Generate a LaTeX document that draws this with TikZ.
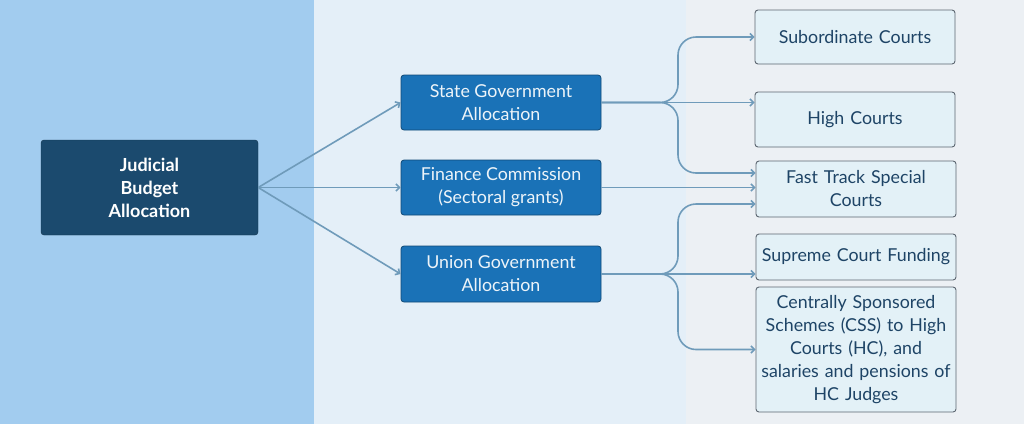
\documentclass[tikz,border=0pt]{standalone}
\usepackage{fontspec}
\setmainfont{Lato}
\usepackage{tikz}
\usepackage{xcolor}
\usetikzlibrary{arrows.meta,positioning}
\definecolor{left-bg}{HTML}{A2CCEF}
\definecolor{mid-bg}{HTML}{E4EFF8}
\definecolor{right-bg}{HTML}{ECF0F4}
\definecolor{navy-box}{HTML}{1B4A6E}
\definecolor{blue-box}{HTML}{1A72B7}
\definecolor{pale-box}{HTML}{E3F1F7}
\definecolor{link-col}{HTML}{6F9BBA}
\definecolor{dark-text}{HTML}{1E4466}
\definecolor{edge-gray}{HTML}{5C6670}
\tikzset{
    root-box/.style = {draw=navy-box!70!black, fill=navy-box, text=white, rectangle, rounded corners=3pt, font=\bfseries\fontsize{18}{23}\selectfont, align=center, minimum width=217pt, minimum height=95pt, inner sep=0pt},
    source-box/.style = {draw=blue-box!65!black, line width=0.8pt, fill=blue-box, text=white!92!blue-box, rectangle, rounded corners=3pt, font=\fontsize{17.8}{23}\selectfont, align=center, minimum width=200pt, inner sep=0pt},
    court-box/.style = {draw=edge-gray, line width=0.9pt, fill=pale-box, text=dark-text, rectangle, rounded corners=3pt, font=\fontsize{17.8}{23}\selectfont, align=center, text width=198pt, minimum width=200pt, inner sep=1pt},
    link/.style = {draw=link-col, line width=1.6pt, -{Straight Barb[length=3.5pt,width=7pt]}},
}
\begin{document}
\begin{tikzpicture}[x=1pt, y=-1pt]
\useasboundingbox (0,0) rectangle (1024,424);
\fill[left-bg] (0,0) rectangle (314,424);
\fill[mid-bg] (314,0) rectangle (686,424);
\fill[right-bg] (686,0) rectangle (1024,424);

\node [root-box] (budget) at (149.5,187.5) {Judicial\\Budget\\Allocation};

\node [source-box, minimum height=55pt] (state) at (501,102.5) {State Government\\Allocation};
\node [source-box, minimum height=55pt] (finance) at (501,187.5) {Finance Commission\\(Sectoral grants)};
\node [source-box, minimum height=56pt] (union) at (501,274) {Union Government\\Allocation};

\node [court-box, minimum height=54pt] (subordinate) at (855,37) {Subordinate Courts};
\node [court-box, minimum height=55pt] (high) at (855,119.5) {High Courts};
\node [court-box, minimum height=56pt] (fast-track) at (856,189) {Fast Track Special\\Courts};
\node [court-box, minimum height=46pt] (supreme) at (856,257) {Supreme Court Funding};
\node [court-box, minimum height=125pt] (css) at (856,349.5) {Centrally Sponsored\\Schemes (CSS) to High\\Courts (HC), and\\salaries and pensions of\\HC Judges};

\coordinate (state-split) at (678,102.5);
\coordinate (union-split) at (678,274);

\draw[link] (budget.east) -- (state.west);
\draw[link] (budget.east) -- (finance.west);
\draw[link] (budget.east) -- (union.west);

\draw[link, rounded corners=18pt] (state.east) -- (state-split) |- (subordinate.west);
\draw[link] (state.east) -- (state.east -| high.west);
\draw[link, rounded corners=18pt] (state.east) -- (state-split) |- ([yshift=16pt]fast-track.west);

\draw[link] (finance.east) -- (finance.east -| fast-track.west);

\draw[link, rounded corners=18pt] (union.east) -- (union-split) |- ([yshift=-15pt]fast-track.west);
\draw[link] (union.east) -- (union.east -| supreme.west);
\draw[link, rounded corners=18pt] (union.east) -- (union-split) |- (css.west);
\end{tikzpicture}
\end{document}
